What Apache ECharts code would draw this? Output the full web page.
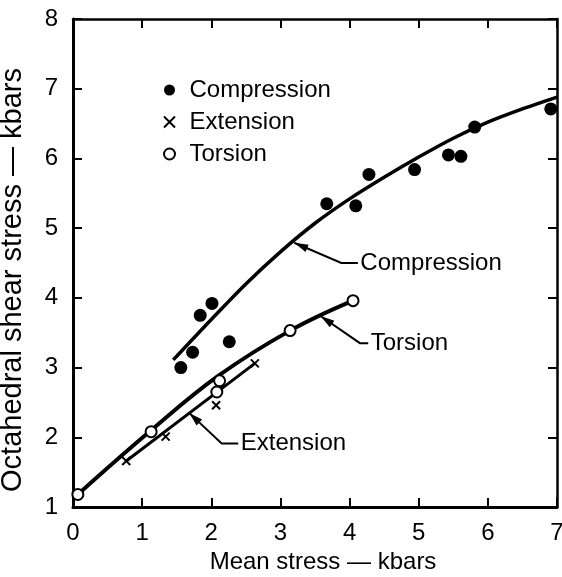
<!DOCTYPE html>
<html>
<head>
<meta charset="utf-8">
<script src="https://cdn.jsdelivr.net/npm/echarts@6/dist/echarts.min.js"></script>
<style>
html,body{margin:0;padding:0;background:#fff;}
#chart{width:562px;height:577px;}
</style>
</head>
<body>
<div id="chart"></div>
<script>
// ---- data ----
const compX = [1.56, 1.73, 1.84, 2.01, 2.26, 3.67, 4.09, 4.28, 4.94, 5.43, 5.61, 5.81, 6.91];
const compY = [3.00, 3.22, 3.75, 3.92, 3.37, 5.35, 5.32, 5.77, 5.84, 6.05, 6.03, 6.45, 6.71];
const extX = [0.77, 1.34, 2.07, 2.63];
const extY = [1.66, 2.01, 2.46, 3.06];
const torX = [0.07, 1.13, 2.08, 2.12, 3.14, 4.05];
const torY = [1.18, 2.08, 2.65, 2.81, 3.53, 3.96];

// fitted curves as traced in the figure
const compCurveX = [1.45, 2.0, 2.5, 3.0, 3.5, 4.0, 4.5, 5.0, 5.5, 6.0, 6.5, 7.0];
const compCurveY = [3.11, 3.69, 4.20, 4.66, 5.07, 5.42, 5.73, 6.02, 6.29, 6.52, 6.71, 6.88];
const torCurveX = [0.07, 1.13, 2.10, 3.14, 4.05];
const torCurveY = [1.18, 2.10, 2.88, 3.53, 3.96];
const extCurveX = [0.77, 2.63];
const extCurveY = [1.66, 3.06];

// annotation labels with leader arrows
const annoNames = ['Compression', 'Torsion', 'Extension'];
const annoTip = [[3.20, 4.79], [3.58, 3.74], [1.68, 2.35]];
const annoBend = [[3.88, 4.50], [4.15, 3.35], [2.15, 1.91]];
const annoEndX = [4.12, 4.27, 2.39];

const xTicks = [0, 1, 2, 3, 4, 5, 6, 7];
const yTicks = [1, 2, 3, 4, 5, 6, 7, 8];

const zip = (a, b) => a.map((v, i) => [v, b[i]]);
const FONT = '"Liberation Sans", Arial, sans-serif';
const crossPath = 'path://M0,0L10,10M0,10L10,0';

const chart = echarts.init(document.getElementById('chart'), null, {renderer: 'canvas'});

const axisCommon = {
  type: 'value',
  splitLine: {show: false},
  axisLine: {show: true, onZero: false, lineStyle: {color: '#000', width: 3}},
  axisTick: {show: true, inside: true, length: 9, lineStyle: {color: '#000', width: 2}},
};

const option = {
  backgroundColor: '#fff',
  animation: false,
  grid: {left: 73, right: 5, top: 19, bottom: 70, containLabel: false, outerBoundsMode: 'none'},
  xAxis: [
    Object.assign({}, axisCommon, {
      min: xTicks[0], max: xTicks[xTicks.length - 1], interval: 1, position: 'bottom',
      axisLabel: {color: '#000', fontSize: 24, fontFamily: FONT, margin: 14},
      name: 'Mean stress — kbars', nameLocation: 'middle', nameGap: 41,
      nameTextStyle: {color: '#000', fontSize: 24, fontFamily: FONT, padding: [0, 0, 0, 16]}
    }),
    Object.assign({}, axisCommon, {
      min: xTicks[0], max: xTicks[xTicks.length - 1], interval: 1, position: 'top',
      axisLine: {show: true, onZero: false, lineStyle: {color: '#000', width: 2.5}},
      axisLabel: {show: false}
    })
  ],
  yAxis: [
    Object.assign({}, axisCommon, {
      min: yTicks[0], max: yTicks[yTicks.length - 1], interval: 1, position: 'left',
      axisLabel: {color: '#000', fontSize: 24, fontFamily: FONT, margin: 15},
      name: 'Octahedral shear stress — kbars', nameLocation: 'middle', nameGap: 46,
      nameTextStyle: {color: '#000', fontSize: 29, fontFamily: FONT, padding: [0, 34, 0, 0]}
    }),
    Object.assign({}, axisCommon, {
      min: yTicks[0], max: yTicks[yTicks.length - 1], interval: 1, position: 'right',
      axisLine: {show: true, onZero: false, lineStyle: {color: '#000', width: 2.5}},
      axisLabel: {show: false}
    })
  ],
  legend: {
    orient: 'vertical', left: 158, top: 73, itemWidth: 30, itemHeight: 11, itemGap: 8,
    textStyle: {color: '#000', fontSize: 24, fontFamily: FONT},
    data: [
      {name: 'Compression', icon: 'circle'},
      {name: 'Extension', icon: crossPath},
      {name: 'Torsion', icon: 'circle'}
    ]
  },
  series: [
    {type: 'line', name: 'compCurve', data: zip(compCurveX, compCurveY), smooth: 0.3, showSymbol: false, symbol: 'none',
     lineStyle: {color: '#000', width: 3.5}, z: 2, silent: true},
    {type: 'line', name: 'torCurve', data: zip(torCurveX, torCurveY), smooth: 0.4, showSymbol: false, symbol: 'none',
     lineStyle: {color: '#000', width: 4}, z: 2, silent: true},
    {type: 'line', name: 'extCurve', data: zip(extCurveX, extCurveY), showSymbol: false, symbol: 'none',
     lineStyle: {color: '#000', width: 3}, z: 2, silent: true},
    {type: 'scatter', name: 'Compression', data: zip(compX, compY), symbol: 'circle', symbolSize: 13,
     itemStyle: {color: '#000', opacity: 1}, z: 5},
    {type: 'scatter', name: 'Extension', data: zip(extX, extY), symbol: crossPath, symbolSize: 8,
     itemStyle: {color: 'rgba(0,0,0,0)', borderColor: '#000', borderWidth: 2, opacity: 1}, z: 5},
    {type: 'scatter', name: 'Torsion', data: zip(torX, torY), symbol: 'circle', symbolSize: 11,
     itemStyle: {color: '#fff', borderColor: '#000', borderWidth: 2, opacity: 1}, z: 6},
    // annotation leader lines
    {type: 'lines', coordinateSystem: 'cartesian2d', silent: true, z: 4, polyline: true,
     symbol: 'none', lineStyle: {color: '#000', width: 2, opacity: 1},
     data: annoNames.map((n, i) => ({coords: [[annoEndX[i], annoBend[i][1]], annoBend[i], annoTip[i]]}))},
    // annotation texts
    {type: 'scatter', name: 'annoText', silent: true, symbolSize: 1,
     itemStyle: {color: 'rgba(0,0,0,0)', opacity: 1},
     data: annoNames.map((n, i) => ({name: n, value: [annoEndX[i], annoBend[i][1]]})),
     label: {show: true, position: 'right', distance: 2, formatter: '{b}', color: '#000', opacity: 1,
             fontSize: 24, fontFamily: FONT, textBorderWidth: 0},
     z: 4}
  ]
};
chart.setOption(option);

// arrowheads at the leader tips, placed through the chart's own coordinate conversion
const heads = annoNames.map((n, i) => {
  const t = chart.convertToPixel({gridIndex: 0}, annoTip[i]);
  const b = chart.convertToPixel({gridIndex: 0}, annoBend[i]);
  const dx = t[0] - b[0], dy = t[1] - b[1];
  const len = Math.sqrt(dx * dx + dy * dy);
  const ux = dx / len, uy = dy / len;
  const L = 14, W = 4;
  const bx = t[0] - ux * L, by = t[1] - uy * L;
  return {
    type: 'polygon', silent: true, z: 10,
    shape: {points: [[t[0], t[1]], [bx - uy * W, by + ux * W], [bx + uy * W, by - ux * W]]},
    style: {fill: '#000'}
  };
});
chart.setOption({graphic: heads});
</script>
</body>
</html>
